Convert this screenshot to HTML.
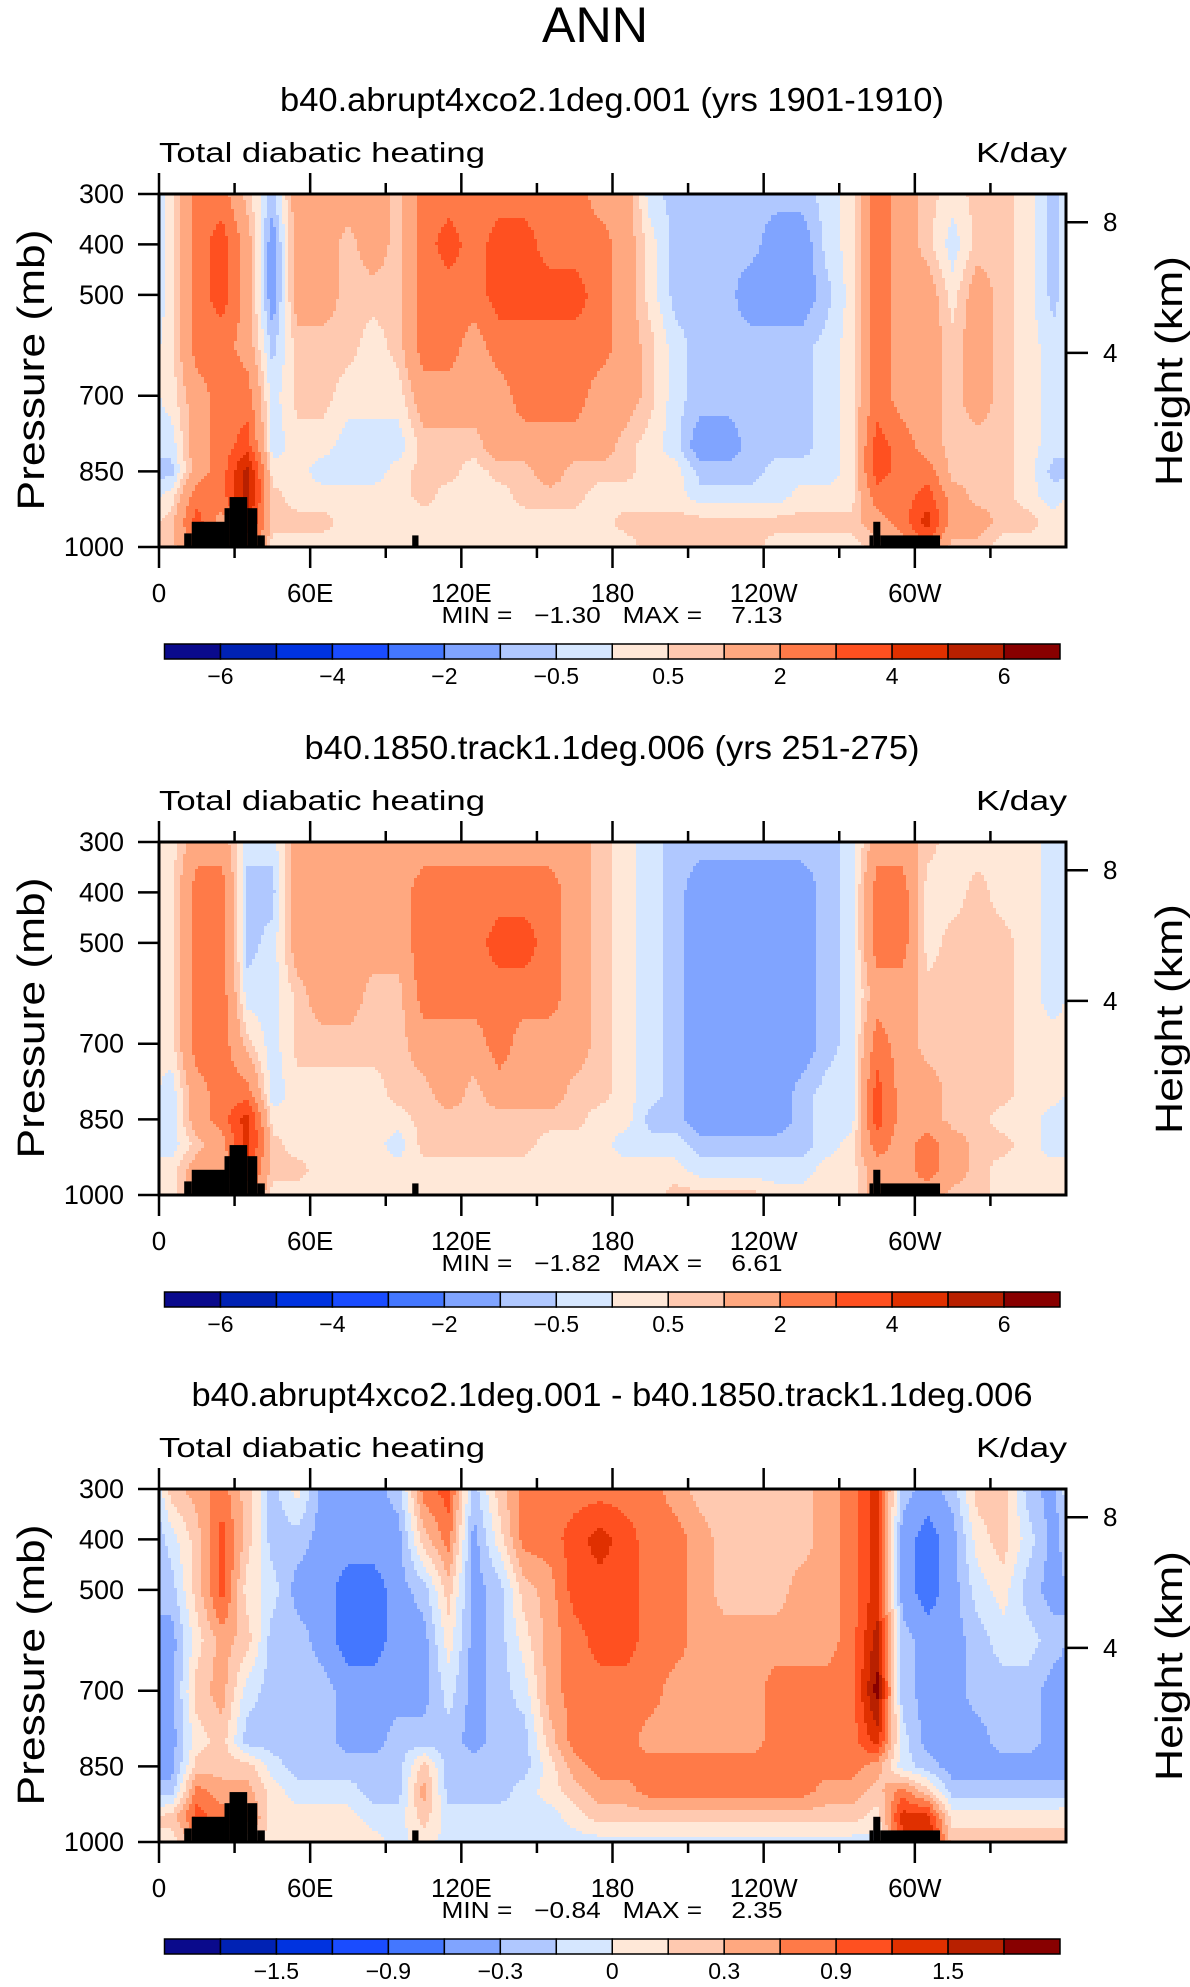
<!DOCTYPE html>
<html><head><meta charset="utf-8"><style>
html,body{margin:0;padding:0;background:#fff}
svg{display:block}
text{font-family:"Liberation Sans",sans-serif;fill:#000;white-space:pre}
</style></head><body>
<svg id="fig" width="1190" height="1987" viewBox="0 0 1190 1987" xmlns="http://www.w3.org/2000/svg" xml:space="preserve">
<rect width="1190" height="1987" fill="#fff"/>
<text x="595" y="42" font-size="50" text-anchor="middle" textLength="106" lengthAdjust="spacingAndGlyphs">ANN</text>

<g id="panel0">
<text x="612" y="111" font-size="33" text-anchor="middle" textLength="664" lengthAdjust="spacingAndGlyphs">b40.abrupt4xco2.1deg.001 (yrs 1901-1910)</text>
<g class="heat"></g>
<text x="612" y="623" font-size="23" text-anchor="middle" textLength="341" lengthAdjust="spacingAndGlyphs">MIN =   −1.30   MAX =    7.13</text>
<g font-size="23" text-anchor="middle">
<text x="220.5" y="684">−6</text><text x="332.4" y="684">−4</text><text x="444.4" y="684">−2</text><text x="556.3" y="684">−0.5</text><text x="668.2" y="684">0.5</text><text x="780.2" y="684">2</text><text x="892.1" y="684">4</text><text x="1004.1" y="684">6</text>
</g>
</g>

<g id="panel1" transform="translate(0,648)">
<text x="612" y="111" font-size="33" text-anchor="middle" textLength="615" lengthAdjust="spacingAndGlyphs">b40.1850.track1.1deg.006 (yrs 251-275)</text>
<g class="heat"></g>
<text x="612" y="623" font-size="23" text-anchor="middle" textLength="341" lengthAdjust="spacingAndGlyphs">MIN =   −1.82   MAX =    6.61</text>
<g font-size="23" text-anchor="middle">
<text x="220.5" y="684">−6</text><text x="332.4" y="684">−4</text><text x="444.4" y="684">−2</text><text x="556.3" y="684">−0.5</text><text x="668.2" y="684">0.5</text><text x="780.2" y="684">2</text><text x="892.1" y="684">4</text><text x="1004.1" y="684">6</text>
</g>
</g>

<g id="panel2" transform="translate(0,1295)">
<text x="612" y="111" font-size="33" text-anchor="middle" textLength="841" lengthAdjust="spacingAndGlyphs">b40.abrupt4xco2.1deg.001 - b40.1850.track1.1deg.006</text>
<g class="heat"></g>
<text x="612" y="623" font-size="23" text-anchor="middle" textLength="341" lengthAdjust="spacingAndGlyphs">MIN =   −0.84   MAX =    2.35</text>
<g font-size="23" text-anchor="middle">
<text x="276.4" y="684">−1.5</text><text x="388.4" y="684">−0.9</text><text x="500.3" y="684">−0.3</text><text x="612.3" y="684">0</text><text x="724.2" y="684">0.3</text><text x="836.1" y="684">0.9</text><text x="948.1" y="684">1.5</text>
</g>
</g>
</svg>

<script>
const lons = [5,15,25,35,45,55,65,75,85,95,105,115,125,135,145,155,165,175,185,195,205,215,225,235,245,255,265,275,285,295,305,315,325,335,345,355];
const pLevels = [300,400,500,600,700,800,850,900,950,1000];
const levelsKday = [-6,-5,-4,-3,-2,-1,-0.5,0,0.5,1,2,3,4,5,6];
const levelsDiff = [-2.1,-1.8,-1.5,-1.2,-0.9,-0.6,-0.3,0,0.3,0.6,0.9,1.2,1.5,1.8,2.1];
const fillColors = ['#0a0a8c','#0022b4','#0033e0','#1a4cff','#4477ff','#80a4ff','#b0c8ff','#d6e7ff','#ffe8d8','#ffc9b0','#ffa880','#ff7a48','#ff5020','#e03000','#b82000','#880000'];

const heatAbrupt = [
[0.25,0.25,0.25,0.25,0.25,-0.3,-0.7,0.25,0.7,0.7],
[2.5,2.5,2.5,2.5,1.5,1.5,1.5,2.5,3.5,2.5],
[2.5,3.5,3.5,2.5,2.5,2.5,2.5,2.5,1.5,1.5],
[0.7,1.5,1.5,1.5,2.5,3.5,5.5,5.5,4.5,3.5],
[-0.7,-1.5,-1.5,-0.7,-0.3,-0.3,0.25,0.7,0.7,0.25],
[1.5,1.5,1.5,0.7,0.7,0.25,0.25,0.25,0.7,0.25],
[1.5,1.5,1.5,0.7,0.7,0.25,-0.3,0.25,0.7,0.25],
[1.5,0.7,0.7,0.7,0.25,-0.3,-0.3,0.25,0.25,0.25],
[1.5,1.5,0.7,0.25,0.25,-0.3,-0.3,0.25,0.25,0.25],
[0.7,0.7,0.7,0.7,0.25,-0.3,0.25,0.25,0.25,0.25],
[2.5,2.5,2.5,2.5,1.5,0.7,0.7,0.7,0.25,0.25],
[2.5,3.5,2.5,2.5,1.5,0.7,0.7,0.25,0.25,0.25],
[2.5,2.5,2.5,1.5,1.5,0.7,0.25,0.25,0.25,0.25],
[2.5,3.5,3.5,2.5,1.5,1.5,0.7,0.25,0.25,0.25],
[2.5,3.5,3.5,2.5,2.5,1.5,0.7,0.7,0.25,0.25],
[2.5,2.5,3.5,2.5,2.5,1.5,1.5,0.7,0.25,0.25],
[2.5,2.5,3.5,2.5,2.5,1.5,0.7,0.7,0.25,0.25],
[1.5,2.5,2.5,2.5,1.5,1.5,0.7,0.25,0.25,0.25],
[1.5,1.5,1.5,1.5,1.5,0.7,0.7,0.25,0.7,0.25],
[-0.3,0.25,0.25,0.7,0.7,0.25,0.25,0.25,0.7,0.7],
[-0.7,-0.7,-0.7,-0.3,-0.3,-0.3,0.25,0.25,0.7,0.7],
[-0.7,-0.7,-0.7,-0.7,-0.7,-1.5,-0.7,-0.3,0.7,0.7],
[-0.7,-0.7,-0.7,-0.7,-0.7,-1.5,-0.7,-0.3,0.7,0.7],
[-0.7,-0.7,-1.5,-0.7,-0.7,-0.7,-0.7,-0.3,0.7,0.7],
[-0.7,-1.5,-1.5,-0.7,-0.7,-0.7,-0.3,-0.3,0.7,0.25],
[-0.7,-1.5,-1.5,-0.7,-0.7,-0.7,-0.3,0.25,0.7,0.25],
[-0.3,-0.3,-0.7,-0.3,-0.3,-0.3,-0.3,0.25,0.7,0.25],
[0.25,0.25,0.25,0.25,0.25,0.25,0.25,0.25,0.7,0.25],
[2.5,2.5,2.5,2.5,2.5,3.5,3.5,2.5,1.5,0.7],
[1.5,1.5,1.5,1.5,1.5,2.5,2.5,2.5,2.5,1.5],
[0.7,0.7,1.5,1.5,1.5,1.5,2.5,3.5,4.5,2.5],
[0.25,-0.3,0.25,0.7,0.7,0.7,0.7,1.5,1.5,0.7],
[0.7,0.7,1.5,1.5,1.5,0.7,0.7,0.7,1.5,0.7],
[0.7,0.7,0.7,0.7,0.7,0.7,0.7,0.7,0.7,0.25],
[0.25,0.25,0.25,0.25,0.25,0.25,0.25,0.25,0.7,0.25],
[-0.7,-0.7,-0.7,-0.3,-0.3,-0.3,-0.7,-0.3,0.25,0.25]
];
const heatControl = [
[0.25,0.25,0.25,0.25,0.25,-0.3,-0.3,-0.3,0.25,0.25],
[1.5,2.5,2.5,2.5,2.5,1.5,1.5,0.7,1.5,1.5],
[1.5,2.5,2.5,2.5,2.5,2.5,2.5,1.5,1.5,1.5],
[-0.3,-0.7,-0.7,-0.3,0.7,2.5,4.5,4.5,3.5,2.5],
[-0.3,-0.7,-0.3,-0.3,-0.3,-0.3,0.25,0.7,0.7,0.25],
[1.5,1.5,1.5,0.7,0.7,0.25,0.25,0.25,0.7,0.25],
[1.5,1.5,1.5,1.5,0.7,0.25,0.25,0.25,0.25,0.25],
[1.5,1.5,1.5,1.5,0.7,0.25,0.25,0.25,0.25,0.25],
[1.5,1.5,1.5,0.7,0.7,0.25,0.25,0.25,0.25,0.25],
[1.5,1.5,1.5,0.7,0.7,0.7,0.25,-0.3,0.25,0.25],
[1.5,2.5,2.5,2.5,1.5,0.7,0.7,0.7,0.25,0.25],
[1.5,2.5,2.5,2.5,1.5,1.5,0.7,0.7,0.25,0.25],
[1.5,2.5,2.5,2.5,1.5,0.7,0.7,0.7,0.25,0.25],
[1.5,2.5,3.5,2.5,2.5,1.5,0.7,0.7,0.25,0.25],
[1.5,2.5,3.5,2.5,1.5,1.5,0.7,0.7,0.25,0.25],
[1.5,2.5,2.5,2.5,1.5,1.5,0.7,0.25,0.25,0.25],
[1.5,1.5,1.5,1.5,1.5,0.7,0.7,0.25,0.25,0.25],
[0.7,0.7,0.7,0.7,0.7,0.7,0.25,0.25,0.25,0.25],
[0.25,0.25,0.25,0.25,0.25,0.25,0.25,-0.3,0.25,0.25],
[-0.3,-0.3,-0.3,-0.3,-0.3,-0.3,-0.7,-0.3,0.25,0.25],
[-0.7,-0.7,-0.7,-0.7,-0.7,-0.7,-0.7,-0.3,0.25,0.7],
[-0.7,-1.5,-1.5,-1.5,-1.5,-1.5,-1.5,-0.7,-0.3,0.7],
[-0.7,-1.5,-1.5,-1.5,-1.5,-1.5,-1.5,-0.7,-0.3,0.7],
[-0.7,-1.5,-1.5,-1.5,-1.5,-1.5,-1.5,-0.7,-0.3,0.7],
[-0.7,-1.5,-1.5,-1.5,-1.5,-1.5,-1.5,-0.7,-0.3,0.25],
[-0.7,-1.5,-1.5,-1.5,-1.5,-0.7,-0.7,-0.7,-0.3,0.25],
[-0.7,-0.7,-0.7,-0.7,-0.7,-0.3,-0.3,-0.3,0.25,0.25],
[-0.3,-0.3,-0.3,-0.3,-0.3,-0.3,-0.3,0.25,0.25,0.25],
[1.5,2.5,2.5,1.5,2.5,3.5,3.5,2.5,1.5,1.5],
[1.5,2.5,2.5,1.5,1.5,1.5,1.5,1.5,1.5,1.5],
[0.7,0.25,0.25,0.7,0.7,1.5,1.5,2.5,2.5,1.5],
[0.25,0.25,0.7,0.7,0.7,0.7,0.7,1.5,1.5,0.7],
[0.25,0.7,0.7,0.7,0.7,0.7,0.7,0.7,0.7,0.7],
[0.25,0.25,0.7,0.7,0.7,0.7,0.25,0.7,0.25,0.25],
[0.25,0.25,0.25,0.25,0.25,0.25,0.25,0.25,0.25,0.25],
[-0.3,-0.3,-0.3,-0.3,0.25,0.25,-0.3,-0.3,0.25,0.25]
];
const heatDiff = [
[0.45,-0.15,-0.45,-0.75,-0.75,-0.75,-0.75,-0.45,0.45,0.15],
[0.75,0.45,0.45,0.15,0.45,0.15,0.45,1.05,1.35,0.75],
[1.05,1.35,1.35,0.75,0.75,0.45,0.45,0.75,1.05,0.75],
[0.45,0.45,0.15,0.45,-0.15,-0.45,0.45,0.75,1.05,0.45],
[-0.45,-0.45,-0.15,-0.45,-0.45,-0.45,-0.15,0.15,0.15,0.15],
[0.15,-0.45,-0.75,-0.45,-0.45,-0.45,-0.45,-0.15,0.15,0.15],
[-0.75,-0.75,-0.75,-0.75,-0.45,-0.45,-0.45,-0.15,0.15,0.15],
[-0.75,-0.75,-1.05,-1.05,-0.75,-0.75,-0.45,-0.15,0.15,0.15],
[-0.75,-0.75,-1.05,-1.05,-0.75,-0.75,-0.45,-0.45,-0.15,0.15],
[-0.45,-0.75,-0.75,-0.75,-0.75,-0.45,-0.45,-0.45,-0.15,-0.15],
[1.05,0.45,-0.45,-0.75,-0.75,-0.45,0.45,0.75,0.45,0.15],
[1.35,1.05,0.45,0.15,-0.15,-0.45,-0.45,-0.45,-0.15,-0.15],
[-0.45,-0.75,-0.75,-0.75,-0.75,-0.75,-0.45,-0.45,-0.15,-0.15],
[0.45,0.15,-0.45,-0.45,-0.45,-0.45,-0.45,-0.45,-0.15,-0.15],
[1.05,1.05,0.45,0.15,-0.15,-0.45,-0.45,-0.15,-0.15,-0.15],
[1.05,1.05,0.75,0.75,0.75,0.45,0.15,0.15,-0.15,-0.15],
[1.05,1.35,1.35,1.05,1.05,1.05,0.75,0.45,0.15,-0.15],
[1.05,1.65,1.35,1.35,1.05,1.05,1.05,0.75,0.45,-0.15],
[1.05,1.35,1.35,1.35,1.05,1.05,1.05,0.75,0.45,-0.15],
[1.05,1.05,1.05,1.05,1.05,0.75,1.05,1.05,0.45,-0.15],
[0.75,1.05,1.05,1.05,0.75,0.75,1.05,1.05,0.45,-0.15],
[0.45,0.75,0.75,0.75,0.75,0.75,1.05,1.05,0.45,-0.15],
[0.45,0.45,0.45,0.75,0.75,0.75,1.05,1.05,0.45,-0.15],
[0.45,0.45,0.45,0.75,0.75,0.75,1.05,1.05,0.45,-0.15],
[0.45,0.45,0.45,0.75,1.05,1.05,1.05,1.05,0.45,-0.15],
[0.45,0.45,0.75,0.75,1.05,1.05,1.05,1.05,0.45,-0.15],
[0.75,0.75,0.75,0.75,1.05,1.05,1.05,0.75,0.45,-0.15],
[1.05,1.05,1.05,1.05,1.05,1.05,1.05,0.75,0.45,-0.15],
[1.65,1.65,1.65,1.95,2.25,1.65,0.75,0.45,0.15,-0.15],
[-0.45,-0.75,-0.75,-0.45,-0.45,-0.15,-0.15,1.05,1.65,1.35],
[-0.75,-1.05,-1.05,-0.75,-0.75,-0.75,-0.45,0.45,1.65,1.95],
[-0.45,-0.75,-0.75,-0.75,-0.75,-0.75,-0.75,-0.45,0.15,0.45],
[0.45,0.15,-0.15,-0.45,-0.45,-0.75,-0.75,-0.45,0.15,0.45],
[0.45,0.45,0.15,-0.15,-0.45,-0.45,-0.75,-0.45,0.15,0.45],
[-0.45,-0.15,-0.45,-0.15,-0.45,-0.45,-0.75,-0.45,0.15,0.45],
[-0.75,-0.75,-0.75,-0.45,-0.75,-0.75,-0.75,-0.45,0.15,0.45]
];
const landWest = [10,13,26,28,35,39,100.5,282,283.5,286.3];
const landEast = [13,26,28,35,39,42,103,283.5,286.3,310];
const landTopP = [973,950,923,901,923,977,977,977,950,977];

const yTickP = [300,400,500,700,850,1000];
const yTickText = ['300','400','500','700','850','1000'];
const xMajorLon = [0,60,120,180,240,300];
const xMajorText = ['0','60E','120E','180','120W','60W'];
const xMinorLon = [30,90,150,210,270,330];
const heightKm = [8,4];
const heightKmP = [356,615];

const X0=159, X1=1066, T=194, B=547;
const NS='http://www.w3.org/2000/svg';
const xOf = lon => X0 + lon/360*(X1-X0);
const yOf = p => T + (p-300)/700*(B-T);
function mk(tag, attrs, parent){ const e=document.createElementNS(NS,tag); for(const k in attrs) e.setAttribute(k,attrs[k]); parent.appendChild(e); return e; }

function sample(data, lon, p){
  const u=(lon-5)/10, fi=Math.floor(u), t=u-fi;
  const i0=((fi%36)+36)%36, i1=(i0+1)%36;
  let j=0; while(j<pLevels.length-2 && p>pLevels[j+1]) j++;
  let s=(p-pLevels[j])/(pLevels[j+1]-pLevels[j]); s=Math.max(0,Math.min(1,s));
  const a=data[i0][j]*(1-t)+data[i1][j]*t, b=data[i0][j+1]*(1-t)+data[i1][j+1]*t;
  return a*(1-s)+b*s;
}
function classOf(v, lv){ let k=0; while(k<lv.length && v>lv[k]) k++; return k; }

const panels=[[heatAbrupt,levelsKday],[heatControl,levelsKday],[heatDiff,levelsDiff]];
panels.forEach((pd,pi)=>{
  const g=document.getElementById('panel'+pi);
  const heat=g.querySelector('.heat');
  const data=pd[0], lv=pd[1];
  const step=3;
  for(let y=T; y<B; y+=step){
    const p=300+((y+step/2)-T)/(B-T)*700;
    const h=Math.min(step, B-y)+0.6;
    let runStart=X0, runCls=-1;
    for(let x=X0; x<X1+step; x+=step){
      let cls=-2;
      if(x<X1){ const lon=((x+step/2)-X0)/(X1-X0)*360; cls=classOf(sample(data,lon,p),lv); }
      if(cls!==runCls){
        if(runCls>=0){
          const r=mk('rect',{x:runStart,y:y,width:Math.min(x,X1)-runStart+0.6,height:h,fill:fillColors[runCls]},heat);
          
          
        }
        runStart=x; runCls=cls;
      }
    }
  }
  const land=mk('g',{},g);
  
  
  landWest.forEach((w,i)=>{
    const r=mk('rect',{x:xOf(w),y:yOf(landTopP[i]),width:xOf(landEast[i])-xOf(w),height:B-yOf(landTopP[i]),fill:'#000'},land);
    
    
  });
  const fr=mk('rect',{x:X0,y:T,width:X1-X0,height:B-T,fill:'none',stroke:'#000','stroke-width':3},g);
  
  
  const ax=mk('g',{stroke:'#000','stroke-width':2.5},g);
  
  
  xMajorLon.forEach(l=>{ const x=xOf(l); mk('line',{x1:x,x2:x,y1:T,y2:T-21},ax); mk('line',{x1:x,x2:x,y1:B,y2:B+21},ax); });
  xMinorLon.forEach(l=>{ const x=xOf(l); mk('line',{x1:x,x2:x,y1:T,y2:T-11},ax); mk('line',{x1:x,x2:x,y1:B,y2:B+11},ax); });
  yTickP.forEach(p=>{ const y=yOf(p); mk('line',{x1:X0,x2:X0-21,y1:y,y2:y},ax); });
  heightKmP.forEach(p=>{ const y=yOf(p); mk('line',{x1:X1,x2:X1+22,y1:y,y2:y},ax); });
  const lab=mk('g',{'font-size':26},g);
  
  
  yTickP.forEach((p,i)=>{ const t=mk('text',{x:124,y:yOf(p)+9,'text-anchor':'end','font-size':27},lab); t.textContent=yTickText[i]; });
  xMajorLon.forEach((l,i)=>{ const t=mk('text',{x:xOf(l),y:602,'text-anchor':'middle'},lab); t.textContent=xMajorText[i]; });
  heightKm.forEach((h,i)=>{ const t=mk('text',{x:1103,y:yOf(heightKmP[i])+9},lab); t.textContent=String(h); });
  const tl=mk('text',{x:159,y:162,'font-size':28,textLength:326,lengthAdjust:'spacingAndGlyphs'},g);
    tl.textContent='Total diabatic heating';
  const un=mk('text',{x:1067,y:162,'font-size':28,'text-anchor':'end',textLength:91,lengthAdjust:'spacingAndGlyphs'},g);
    un.textContent='K/day';
  const yl=mk('text',{x:0,y:0,'font-size':38,'text-anchor':'middle',textLength:281,lengthAdjust:'spacingAndGlyphs',transform:'translate(44,370) rotate(-90)'},g);
    yl.textContent='Pressure (mb)';
  const yr=mk('text',{x:0,y:0,'font-size':38,'text-anchor':'middle',textLength:230,lengthAdjust:'spacingAndGlyphs',transform:'translate(1182,371) rotate(-90)'},g);
    yr.textContent='Height (km)';
  const cb=mk('g',{},g);
  
  
  const cx0=164.5, cw=(1060-164.5)/16;
  fillColors.forEach((c,i)=>{
    const r=mk('rect',{x:cx0+i*cw,y:644,width:cw,height:15,fill:c,stroke:'#000','stroke-width':1.5},cb);
    
    
  });
});
</script>
</body></html>
